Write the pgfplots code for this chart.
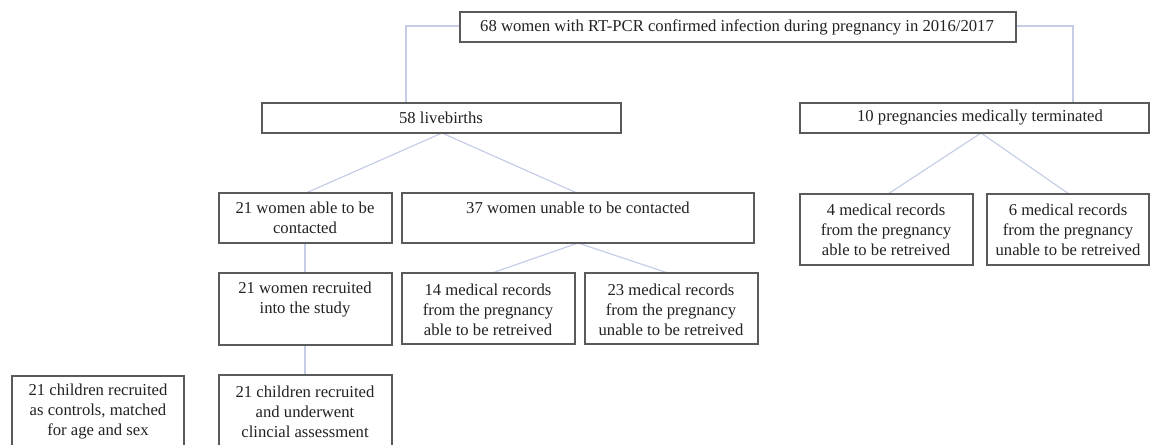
\documentclass[border=0pt]{standalone}
\usepackage{pgfplots}
\pgfplotsset{compat=1.18}
\usepackage{fontspec}
\setmainfont{Liberation Serif}

\definecolor{boxline}{HTML}{5A5A5A}
\definecolor{link}{HTML}{C5CDE6}
\definecolor{txt}{HTML}{222222}

\begin{document}
\begin{tikzpicture}
\begin{axis}[
  width=690.6pt, height=266.4pt, scale only axis,
  xmin=0, xmax=1151, ymin=0, ymax=444,
  y dir=reverse, hide axis, no markers,
  every axis plot/.append style={line width=0.7pt},
  nodes={font=\fontsize{10}{12}\selectfont, text=txt, align=center},
]
% invisible frame so the page spans the whole axis area
\addplot[draw=none] coordinates {(0,0) (1151,444)};

% connectors
\addplot[link] coordinates {(460,26) (406,26) (406,103)};
\addplot[link] coordinates {(1016,26) (1073,26) (1073,103)};
\addplot[link] coordinates {(306,193) (442,133) (577,193)};
\addplot[link] coordinates {(492,273) (578,243) (668,273)};
\addplot[link] coordinates {(305,243) (305,273)};
\addplot[link] coordinates {(305,345) (305,375)};
\addplot[link] coordinates {(888,194) (981,133) (1069,194)};

% boxes
\addplot[boxline, fill=white] coordinates {(460,12) (1016,12) (1016,42) (460,42)} -- cycle;
\addplot[boxline, fill=white] coordinates {(262,103) (621,103) (621,133) (262,133)} -- cycle;
\addplot[boxline, fill=white] coordinates {(800,103) (1149,103) (1149,133) (800,133)} -- cycle;
\addplot[boxline, fill=white] coordinates {(219,193) (392,193) (392,243) (219,243)} -- cycle;
\addplot[boxline, fill=white] coordinates {(402,193) (754,193) (754,243) (402,243)} -- cycle;
\addplot[boxline, fill=white] coordinates {(219,273) (392,273) (392,345) (219,345)} -- cycle;
\addplot[boxline, fill=white] coordinates {(402,273) (575,273) (575,344) (402,344)} -- cycle;
\addplot[boxline, fill=white] coordinates {(585,273) (758,273) (758,344) (585,344)} -- cycle;
\addplot[boxline, fill=white] coordinates {(800,194) (973,194) (973,265) (800,265)} -- cycle;
\addplot[boxline, fill=white] coordinates {(987,194) (1149,194) (1149,265) (987,265)} -- cycle;
\addplot[boxline, fill=white] coordinates {(12,376) (184,376) (184,470) (12,470)} -- cycle;
\addplot[boxline, fill=white] coordinates {(219,375) (392,375) (392,470) (219,470)} -- cycle;

% labels
\node at (axis cs:737,27) {68 women with RT-PCR confirmed infection during pregnancy in 2016/2017};
\node at (axis cs:441,118) {58 livebirths};
\node at (axis cs:980,118) {10 pregnancies medically terminated};
\node at (axis cs:305,218) {21 women able to be\\contacted};
\node at (axis cs:578,208) {37 women unable to be contacted};
\node at (axis cs:305,300) {21 women recruited\\into the study};
\node at (axis cs:488,310) {14 medical records\\from the pregnancy\\able to be retreived};
\node at (axis cs:671,310) {23 medical records\\from the pregnancy\\unable to be retreived};
\node at (axis cs:886,230) {4 medical records\\from the pregnancy\\able to be retreived};
\node at (axis cs:1068,230) {6 medical records\\from the pregnancy\\unable to be retreived};
\node at (axis cs:98,412) {21 children recruited\\as controls, matched\\for age and sex};
\node at (axis cs:305,412) {21 children recruited\\and underwent\\clincial assessment};
\end{axis}
\end{tikzpicture}
\end{document}
